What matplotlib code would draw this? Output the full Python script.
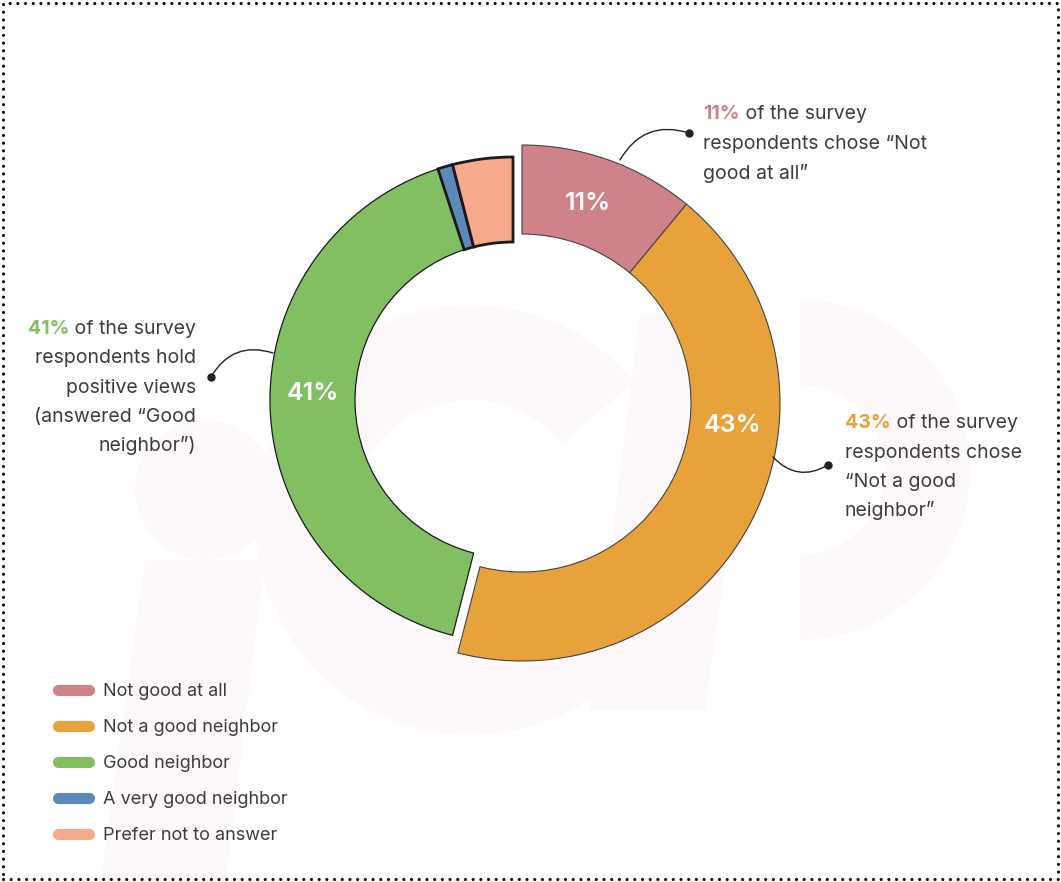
import matplotlib
matplotlib.use("Agg")
import matplotlib.pyplot as plt
from matplotlib.patches import Circle, Polygon, Wedge, Rectangle
from matplotlib.lines import Line2D

# Data
categories = ["Not good at all", "Not a good neighbor", "Good neighbor",
              "A very good neighbor", "Prefer not to answer"]
shares = [11, 43, 41, 1, 4]
colors = ["#d0828a", "#e8a23c", "#82bf62", "#5b8ab8", "#f7a98c"]
pct_labels = ["11%", "43%", "41%", "", ""]

W, H = 1061, 882
TXT = "#3d3d3d"
FONT = "Inter"

plt.rcParams["font.family"] = [FONT, "DejaVu Sans"]

fig = plt.figure(figsize=(W / 100, H / 100), dpi=100)
ax = fig.add_axes([0, 0, 1, 1])


def Y(y):
    # image row -> data y
    return H - y


# faint watermark logo in the background
wm = "#fdf9fb"
ax.add_patch(Circle((205, Y(490)), 70, color=wm, zorder=0, lw=0))
ax.add_patch(Polygon([(145, Y(560)), (265, Y(560)), (225, Y(885)), (100, Y(885))],
                     color=wm, zorder=0, lw=0))
ax.add_patch(Wedge((470, Y(520)), 215, 40, 320, width=95, color=wm, zorder=0, lw=0))
ax.add_patch(Polygon([(640, Y(315)), (760, Y(315)), (705, Y(710)), (590, Y(710))],
                     color=wm, zorder=0, lw=0))
ax.add_patch(Wedge((800, Y(470)), 170, -90, 90, width=85, color=wm, zorder=0, lw=0))

# the donut is drawn in two groups: red/orange slightly larger and offset
groups = [
    dict(idx=[2, 3, 4], center=(513, Y(400)), radius=243, width=85),
    dict(idx=[0, 1], center=(522, Y(403)), radius=258, width=89),
]
for g in groups:
    wedges, _ = ax.pie(shares, colors=colors, startangle=90, counterclock=False,
                       radius=g["radius"], center=g["center"],
                       wedgeprops=dict(width=g["width"]))
    for i, w in enumerate(wedges):
        if i not in g["idx"]:
            w.set_visible(False)
            continue
        w.set_zorder(2)
        if i in (3, 4):
            w.set_edgecolor("#1a1a1a")
            w.set_linewidth(2.0)
            w.set_zorder(3)
        elif i == 2:
            w.set_edgecolor("#1a1a1a")
            w.set_linewidth(0.9)
        else:
            w.set_edgecolor("#444444")
            w.set_linewidth(0.8)

# percentage labels inside the ring
pct_pos = [(588, 203), (733, 425), (313, 393)]
for lab, (px, py) in zip(pct_labels, pct_pos):
    ax.text(px, Y(py), lab, color="white", fontsize=18, fontweight="semibold",
            ha="center", va="center", zorder=5)

# callout connectors
callouts = [
    ((620, 160), (689, 133), -0.4),
    ((273, 353), (211, 377), 0.4),
    ((773, 457), (828, 465), 0.4),
]
for (sx, sy), (ex, ey), rad in callouts:
    ax.annotate("", xy=(ex, Y(ey)), xytext=(sx, Y(sy)),
                arrowprops=dict(arrowstyle="-", color="#222222", lw=1.0,
                                shrinkA=0, shrinkB=0,
                                connectionstyle=f"arc3,rad={rad}"), zorder=4)
    ax.plot(ex, Y(ey), "o", color="#222222", ms=5, zorder=4)

fig.canvas.draw()
renderer = fig.canvas.get_renderer()
FS = 14


def callout_text(x, y0, step, pct, color, lines, ha):
    rest = ax.text(x, Y(y0), " of the survey", fontsize=FS, color=TXT, ha=ha,
                   va="baseline")
    bold = ax.text(x, Y(y0), pct, fontsize=FS, color=color, fontweight="bold",
                   ha=ha, va="baseline")
    if ha == "left":
        bw = bold.get_window_extent(renderer).width
        rest.set_x(x + bw)
    else:
        rw = rest.get_window_extent(renderer).width
        bold.set_x(x - rw)
    for k, line in enumerate(lines):
        ax.text(x, Y(y0 + step * (k + 1)), line, fontsize=FS, color=TXT, ha=ha,
                va="baseline")


callout_text(703, 119, 30, "11%", colors[0],
             ["respondents chose \u201cNot", "good at all\u201d"], "left")
callout_text(196, 334, 29.3, "41%", colors[2],
             ["respondents hold", "positive views", "(answered \u201cGood",
              "neighbor\u201d)"], "right")
callout_text(845, 428, 29.5, "43%", colors[1],
             ["respondents chose", "\u201cNot a good", "neighbor\u201d"], "left")

# legend
handles = [Line2D([0], [0], color=c, lw=8, solid_capstyle="round") for c in colors]
leg = ax.legend(handles, categories, loc="upper left",
                bbox_to_anchor=(51 / W, 1 - 676 / H), frameon=False,
                fontsize=13, handlelength=1.7, handletextpad=0.8,
                labelspacing=1.05, labelcolor=TXT, borderaxespad=0)

# dotted frame
frame = Rectangle((3, 3), W - 6, H - 6, fill=False, edgecolor="#111111",
                  lw=2.3, linestyle=(0, (0.01, 2.4)), capstyle="round", zorder=6)
ax.add_patch(frame)

ax.set_xlim(0, W)
ax.set_ylim(0, H)
ax.set_aspect("auto")
ax.axis("off")

fig.savefig("out.png", dpi=100, facecolor="white")
